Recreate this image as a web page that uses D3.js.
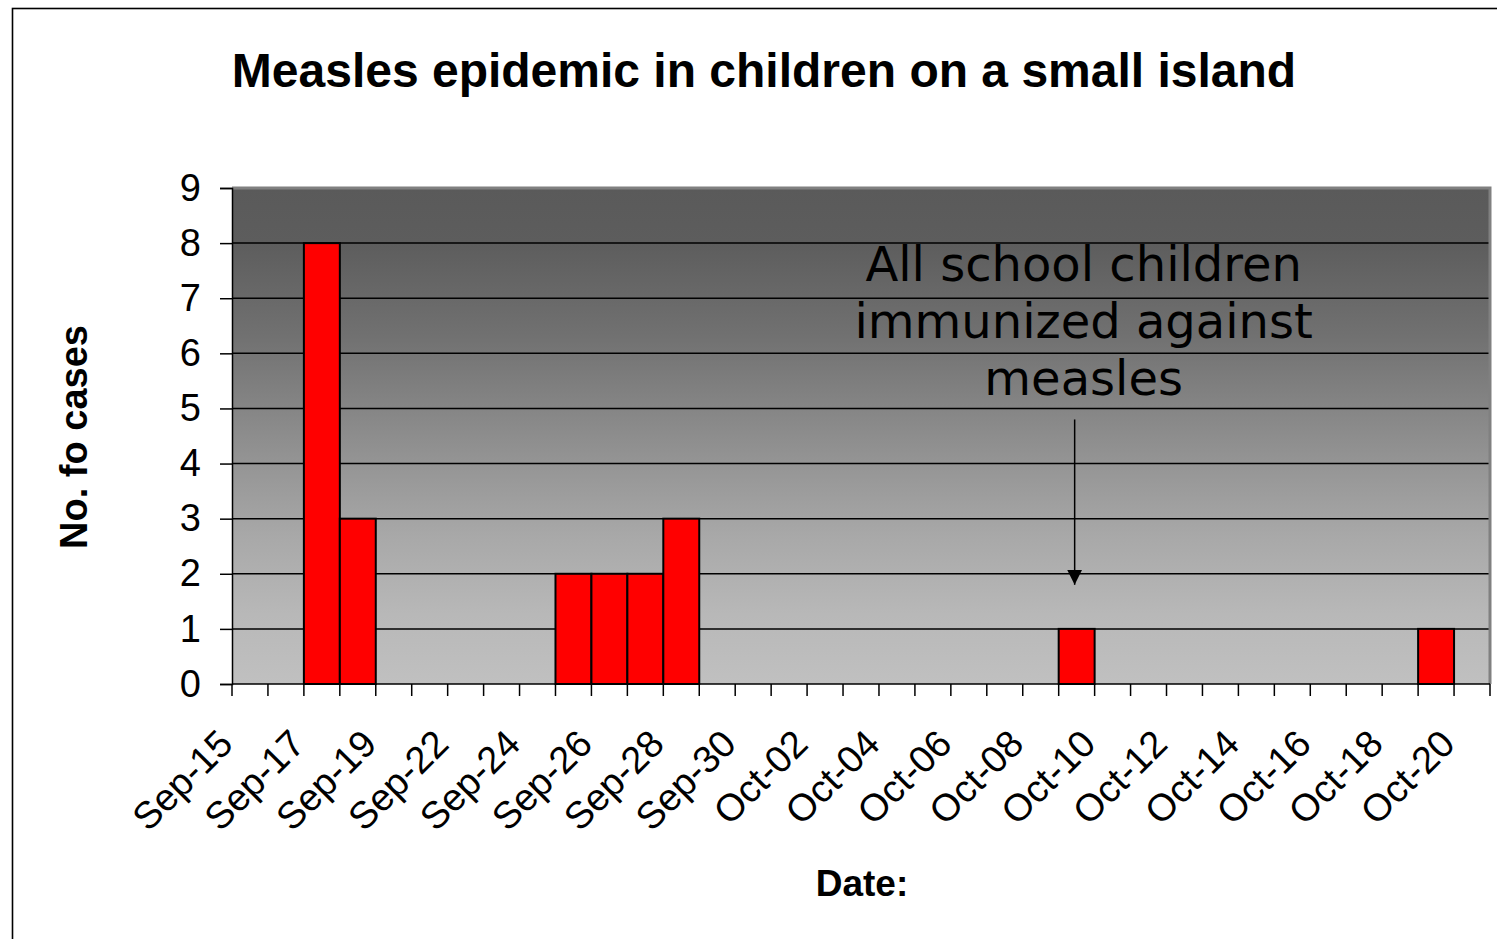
<!DOCTYPE html>
<html>
<head>
<meta charset="utf-8">
<script src="https://cdn.jsdelivr.net/npm/d3@7"></script>
<style>
  html, body { margin: 0; padding: 0; background: #ffffff; }
  svg { display: block; }
</style>
</head>
<body>
<svg id="chart" width="1497" height="939"></svg>
<script>
// Daily measles case counts (one category per reporting date; Sep-21 has no entry)
const dates = [
  "Sep-15","Sep-16","Sep-17","Sep-18","Sep-19","Sep-20","Sep-22","Sep-23","Sep-24",
  "Sep-25","Sep-26","Sep-27","Sep-28","Sep-29","Sep-30","Oct-01","Oct-02","Oct-03",
  "Oct-04","Oct-05","Oct-06","Oct-07","Oct-08","Oct-09","Oct-10","Oct-11","Oct-12",
  "Oct-13","Oct-14","Oct-15","Oct-16","Oct-17","Oct-18","Oct-19","Oct-20"
];
const cases = [
  0, 0, 8, 3, 0, 0, 0, 0, 0,
  2, 2, 2, 3, 0, 0, 0, 0, 0,
  0, 0, 0, 0, 0, 1, 0, 0, 0,
  0, 0, 0, 0, 0, 0, 1, 0
];
const yTicks = [0, 1, 2, 3, 4, 5, 6, 7, 8, 9];
const xTickLabels = dates.filter((d, i) => i % 2 === 0);

const titleText = "Measles epidemic in children on a small island";
const yTitle = "No. fo cases";
const xTitle = "Date:";
const noteLines = ["All school children", "immunized against", "measles"];
const noteDate = "Oct-09";
const noteFrom = 4.8;   // arrow start (cases axis units)
const noteTo = 1.8;     // arrow tip (cases axis units)

const svg = d3.select("#chart");

// outer chart frame
svg.append("rect")
  .attr("x", 12.5).attr("y", 8.5)
  .attr("width", 1497).attr("height", 939)
  .attr("fill", "#ffffff").attr("stroke", "#000000").attr("stroke-width", 1.6);

const plot = { left: 232, top: 188, right: 1490, bottom: 684 };

const x = d3.scaleBand().domain(dates).range([plot.left, plot.right]).padding(0);
const y = d3.scaleLinear().domain([0, 9]).range([plot.bottom, plot.top]);
const bw = x.bandwidth();

// plot area background gradient
const defs = svg.append("defs");
const grad = defs.append("linearGradient")
  .attr("id", "plotBg").attr("x1", 0).attr("y1", 0).attr("x2", 0).attr("y2", 1);
[[0, "#5a5a5a"], [0.11, "#5d5d5d"], [0.3, "#717171"], [0.5, "#8d8d8d"],
 [0.7, "#a8a8a8"], [0.86, "#b8b8b8"], [1, "#c0c0c0"]].forEach(([o, c]) => {
  grad.append("stop").attr("offset", o).attr("stop-color", c);
});

svg.append("rect")
  .attr("x", plot.left).attr("y", plot.top)
  .attr("width", plot.right - plot.left).attr("height", plot.bottom - plot.top)
  .attr("fill", "url(#plotBg)");

// horizontal gridlines
svg.append("g").selectAll("line")
  .data(yTicks.filter(v => v > 0 && v < 9))
  .join("line")
  .attr("x1", plot.left).attr("x2", plot.right)
  .attr("y1", d => y(d)).attr("y2", d => y(d))
  .attr("stroke", "#000000").attr("stroke-width", 1.5);

// plot area border (top and right)
svg.append("path")
  .attr("d", `M${plot.left},${plot.top} H${plot.right} V${plot.bottom}`)
  .attr("fill", "none").attr("stroke", "#808080").attr("stroke-width", 3);

// bars
svg.append("g").selectAll("rect")
  .data(dates.map((d, i) => ({ date: d, value: cases[i] })).filter(d => d.value > 0))
  .join("rect")
  .attr("x", d => x(d.date))
  .attr("y", d => y(d.value))
  .attr("width", bw)
  .attr("height", d => y(0) - y(d.value))
  .attr("fill", "#ff0000")
  .attr("stroke", "#000000")
  .attr("stroke-width", 2);

// y axis
const yAxis = svg.append("g")
  .attr("transform", `translate(${plot.left},0)`)
  .call(d3.axisLeft(y).tickValues(yTicks).tickSize(12).tickPadding(19).tickFormat(d3.format("d")));
yAxis.select(".domain").attr("stroke", "#000000").attr("stroke-width", 1.5);
yAxis.selectAll(".tick line").attr("stroke", "#000000").attr("stroke-width", 1.5);
yAxis.selectAll(".tick text")
  .attr("font-family", "Liberation Sans, Arial, sans-serif")
  .attr("font-size", 38).attr("fill", "#000000");

// x axis line and category boundary ticks
svg.append("line")
  .attr("x1", plot.left).attr("x2", plot.right)
  .attr("y1", plot.bottom).attr("y2", plot.bottom)
  .attr("stroke", "#000000").attr("stroke-width", 1.5);
svg.append("g").selectAll("line")
  .data(dates.map(d => x(d)).concat([x.range()[1]]))
  .join("line")
  .attr("x1", d => d).attr("x2", d => d)
  .attr("y1", plot.bottom).attr("y2", plot.bottom + 12)
  .attr("stroke", "#000000").attr("stroke-width", 1.5);

// x tick labels (every other date, rotated)
const xAxis = svg.append("g")
  .attr("transform", `translate(0,${plot.bottom})`)
  .call(d3.axisBottom(x).tickValues(xTickLabels).tickSize(0));
xAxis.select(".domain").remove();
xAxis.selectAll(".tick text")
  .attr("x", null).attr("y", null).attr("dy", null)
  .attr("text-anchor", "end")
  .attr("transform", "translate(-15,62) rotate(-45)")
  .attr("font-family", "Liberation Sans, Arial, sans-serif")
  .attr("font-size", 38).attr("fill", "#000000");

// annotation with arrow
const noteX = x(noteDate) + bw / 2 - 2;
defs.append("marker")
  .attr("id", "arrowHead")
  .attr("viewBox", "0 0 10 10")
  .attr("refX", 10).attr("refY", 5)
  .attr("markerUnits", "userSpaceOnUse")
  .attr("markerWidth", 15).attr("markerHeight", 15)
  .attr("orient", "auto")
  .append("path").attr("d", "M0,0 L10,5 L0,10 Z").attr("fill", "#000000");
svg.append("line")
  .attr("x1", noteX).attr("x2", noteX)
  .attr("y1", y(noteFrom)).attr("y2", y(noteTo))
  .attr("stroke", "#000000").attr("stroke-width", 1.5)
  .attr("marker-end", "url(#arrowHead)");

const noteText = svg.append("text")
  .attr("text-anchor", "middle")
  .attr("font-family", "DejaVu Sans, Verdana, sans-serif")
  .attr("font-size", 48)
  .attr("fill", "#000000");
noteLines.forEach((line, i) => {
  noteText.append("tspan")
    .attr("x", noteX + 9)
    .attr("y", y(noteFrom) - 24 - (noteLines.length - 1 - i) * 57)
    .text(line);
});

// titles
svg.append("text")
  .attr("x", 764).attr("y", 87)
  .attr("text-anchor", "middle")
  .attr("font-family", "Liberation Sans, Arial, sans-serif")
  .attr("font-weight", "bold").attr("font-size", 48)
  .text(titleText);

svg.append("text")
  .attr("transform", "translate(87,437) rotate(-90)")
  .attr("text-anchor", "middle")
  .attr("font-family", "Liberation Sans, Arial, sans-serif")
  .attr("font-weight", "bold").attr("font-size", 38)
  .text(yTitle);

svg.append("text")
  .attr("x", 862).attr("y", 896)
  .attr("text-anchor", "middle")
  .attr("font-family", "Liberation Sans, Arial, sans-serif")
  .attr("font-weight", "bold").attr("font-size", 37)
  .text(xTitle);
</script>
</body>
</html>
